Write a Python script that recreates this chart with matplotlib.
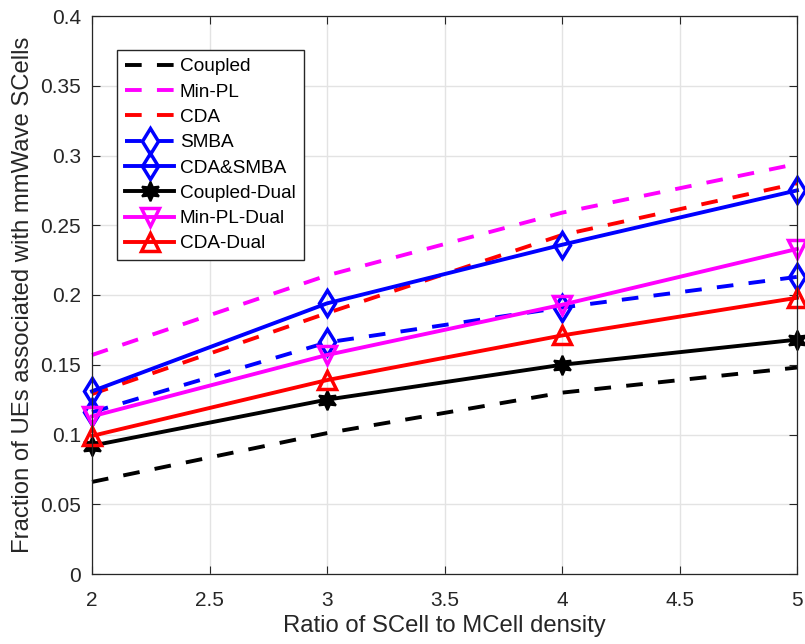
import matplotlib
matplotlib.use("Agg")
import matplotlib.pyplot as plt

plt.rcParams['font.family'] = ['Liberation Sans', 'DejaVu Sans']
plt.rcParams['lines.scale_dashes'] = False

x = [2, 3, 4, 5]
coupled = [0.066, 0.101, 0.130, 0.148]
min_pl = [0.157, 0.214, 0.259, 0.294]
cda = [0.129, 0.187, 0.243, 0.280]
smba = [0.116, 0.166, 0.191, 0.213]
cda_smba = [0.131, 0.194, 0.236, 0.275]
coupled_dual = [0.092, 0.125, 0.150, 0.168]
min_pl_dual = [0.113, 0.157, 0.193, 0.233]
cda_dual = [0.099, 0.139, 0.171, 0.198]

xticks = [2, 2.5, 3, 3.5, 4, 4.5, 5]
yticks = [0, 0.05, 0.1, 0.15, 0.2, 0.25, 0.3, 0.35, 0.4]
xtick_labels = ['2', '2.5', '3', '3.5', '4', '4.5', '5']
ytick_labels = ['0', '0.05', '0.1', '0.15', '0.2', '0.25', '0.3', '0.35', '0.4']

fig = plt.figure(figsize=(8.05, 6.44), dpi=100)
ax = fig.add_axes([92/805, 70/644, 705/805, 558/644])

lw = 2.8
dash = (12, 11)
magenta = '#ff00ff'
blue = '#0000ff'
red = '#ff0000'

common = dict(lw=lw, clip_on=False)
ax.plot(x, coupled, color='black', dashes=dash, label='Coupled', **common)
ax.plot(x, min_pl, color=magenta, dashes=dash, label='Min-PL', **common)
ax.plot(x, cda, color=red, dashes=dash, label='CDA', **common)
ax.plot(x, smba, color=blue, dashes=dash, marker='d', ms=13.5, mfc='none', mew=2.5, label='SMBA', **common)
ax.plot(x, cda_smba, color=blue, marker='d', ms=13.5, mfc='none', mew=2.5, label='CDA&SMBA', **common)
ax.plot(x, coupled_dual, color='black', marker=(6, 1, 0), ms=14, mfc='black', mew=1.5, label='Coupled-Dual', **common)
ax.plot(x, min_pl_dual, color=magenta, marker='v', ms=13, mfc='none', mew=2.5, label='Min-PL-Dual', **common)
ax.plot(x, cda_dual, color=red, marker='^', ms=13, mfc='none', mew=2.5, label='CDA-Dual', **common)

ax.set_xlim(2, 5)
ax.set_ylim(0, 0.4)
ax.set_xticks(xticks)
ax.set_xticklabels(xtick_labels)
ax.set_yticks(yticks)
ax.set_yticklabels(ytick_labels)
ax.tick_params(direction='in', length=6, width=0.8, top=True, right=True,
               labelsize=15, colors='#262626', pad=8)
ax.tick_params(axis='x', pad=12)
ax.grid(True, color='#e3e3e3', lw=1.0)
ax.set_axisbelow(True)
for s in ax.spines.values():
    s.set_color('#262626')
    s.set_linewidth(0.9)

ax.set_xlabel('Ratio of SCell to MCell density', fontsize=17.2, color='#262626', labelpad=4)
ax.set_ylabel('Fraction of UEs associated with mmWave SCells', fontsize=17.2, color='#262626', labelpad=4)

leg = ax.legend(loc='upper left', bbox_to_anchor=(25/705, 524/558), borderaxespad=0,
                fontsize=13.7, handlelength=2.6, handletextpad=0.28, labelspacing=0.42,
                borderpad=0.42, fancybox=False, framealpha=1, edgecolor='#262626')
leg.get_frame().set_linewidth(1.0)
for t in leg.get_texts():
    t.set_color('#000000')

fig.savefig('out.png', dpi=100)
